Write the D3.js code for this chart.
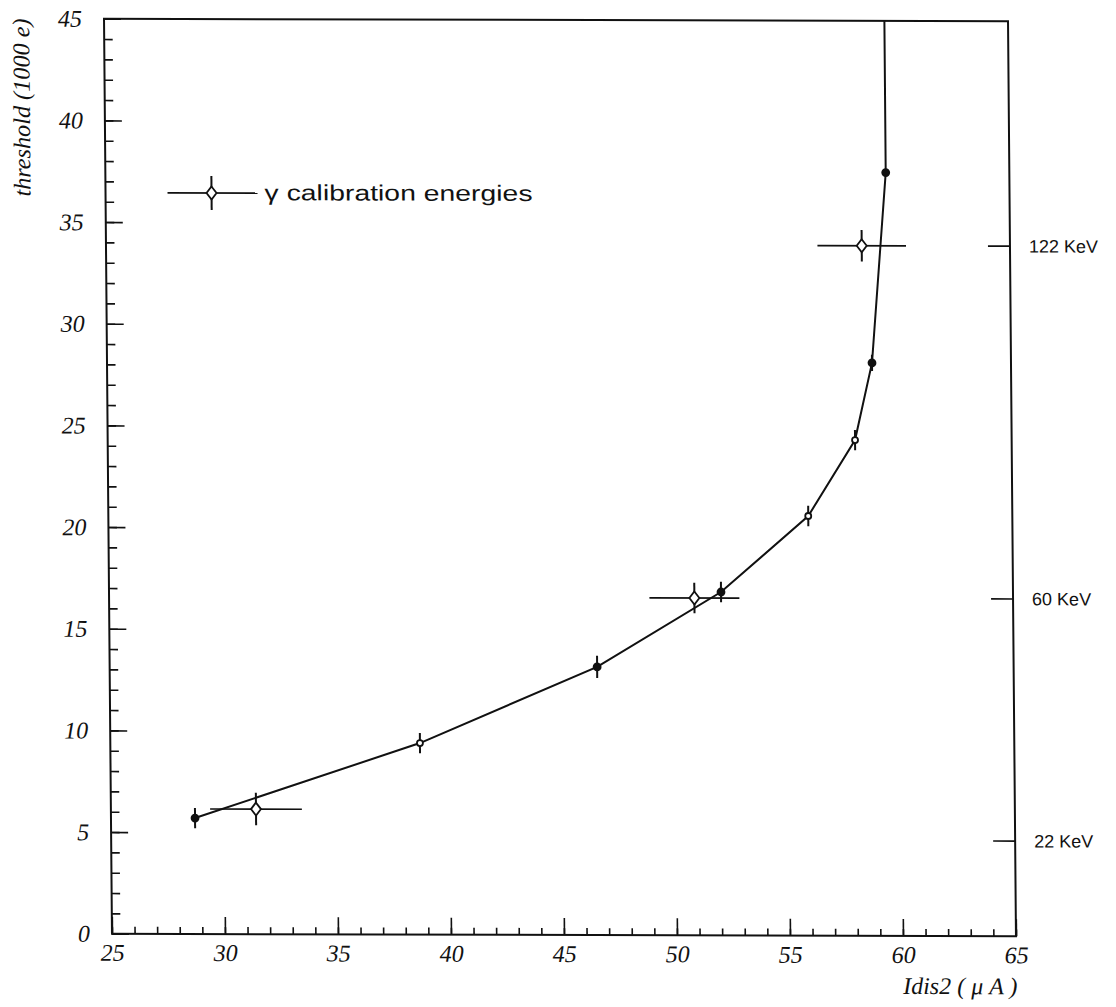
<!DOCTYPE html>
<html>
<head>
<meta charset="utf-8">
<script src="https://cdn.jsdelivr.net/npm/d3@7/dist/d3.min.js"></script>
<style>
  html, body { margin: 0; padding: 0; background: #fff; }
  .tick text { font-family: "Liberation Serif", serif; font-style: italic; font-size: 24px; fill: #111; }
  .tick line { stroke: #111; stroke-width: 1.6; }
</style>
</head>
<body>
<div id="chart"></div>
<script>
// measured points (Idis2 in uA, threshold in 1000 e)
var currentValues   = [28.72, 38.70, 46.57, 52.08, 55.97, 58.07, 58.85, 59.53];
var thresholdValues = [5.70, 9.42, 13.19, 16.89, 20.64, 24.38, 28.18, 37.54];
var thresholdErrors = [0.5, 0.5, 0.55, 0.5, 0.5, 0.5, 0.4, 0];
var openMarker      = [false, true, false, false, true, true, false, false];
// the curve leaves the frame straight up after the last point
var curveEndCurrent = 59.53;
var curveEndThreshold = 45;

// gamma calibration points
var calibCurrent         = [31.42, 50.90, 58.44];
var calibCurrentErrors   = [2.03, 1.99, 1.96];
var calibThreshold       = [6.15, 16.59, 33.94];
var calibThresholdErrors = [0.8, 0.75, 0.77];

// energy marks on the right side
var energyLabels    = ['122 KeV', '60 KeV', '22 KeV'];
var energyThreshold = [33.94, 16.59, 4.68];

var xTicksMajor = [25, 30, 35, 40, 45, 50, 55, 60, 65];
var yTicksMajor = [0, 5, 10, 15, 20, 25, 30, 35, 40, 45];

var svgWidth = 1116;
var svgHeight = 1007;

var plot = { left: 108, right: 1012, top: 20, bottom: 935 };

var svg = d3.select('#chart')
  .append('svg')
  .attr('width', svgWidth)
  .attr('height', svgHeight)
  .style('display', 'block');

svg.append('rect')
  .attr('width', svgWidth)
  .attr('height', svgHeight)
  .attr('fill', '#fff');

// the scanned page is a little skewed, mimic it
var cx = 560, cy = 478;
var skx = 0.0087, sky = 0.0028;
var page = svg.append('g')
  .attr('transform', `matrix(1, ${sky}, ${skx}, 1, ${-skx * cy}, ${-sky * cx})`);

var xScale = d3.scaleLinear().domain([25, 65]).range([plot.left, plot.right]);
var yScale = d3.scaleLinear().domain([0, 45]).range([plot.bottom, plot.top]);

// minor ticks
page.append('g')
  .attr('transform', `translate(0, ${plot.bottom})`)
  .call(d3.axisBottom(xScale).tickValues(d3.range(25, 66, 1)).tickSize(-7).tickFormat(''))
  .call(g => g.select('.domain').remove());

page.append('g')
  .attr('transform', `translate(${plot.left}, 0)`)
  .call(d3.axisLeft(yScale).tickValues(d3.range(0, 46, 1)).tickSize(-8.5).tickFormat(''))
  .call(g => g.select('.domain').remove());

// major ticks with labels
page.append('g')
  .attr('transform', `translate(0, ${plot.bottom})`)
  .call(d3.axisBottom(xScale).tickValues(xTicksMajor).tickSize(-17).tickPadding(10).tickFormat(d3.format('d')))
  .call(g => g.select('.domain').remove());

page.append('g')
  .attr('transform', `translate(${plot.left}, 0)`)
  .call(d3.axisLeft(yScale).tickValues(yTicksMajor).tickSize(-17).tickPadding(22).tickFormat(d3.format('d')))
  .call(g => g.select('.domain').remove());

// frame
page.append('rect')
  .attr('x', plot.left)
  .attr('y', plot.top)
  .attr('width', plot.right - plot.left)
  .attr('height', plot.bottom - plot.top)
  .attr('fill', 'none')
  .attr('stroke', '#111')
  .attr('stroke-width', 2);

// axis titles
page.append('text')
  .attr('x', plot.right + 1)
  .attr('y', 993)
  .attr('text-anchor', 'end')
  .attr('font-family', '"Liberation Serif", serif')
  .attr('font-style', 'italic')
  .attr('font-size', '24px')
  .attr('fill', '#111')
  .text('Idis2 ( \u03BC A )');

page.append('text')
  .attr('transform', 'translate(33, 20) rotate(-90)')
  .attr('text-anchor', 'end')
  .attr('font-family', '"Liberation Serif", serif')
  .attr('font-style', 'italic')
  .attr('font-size', '24px')
  .attr('fill', '#111')
  .attr('textLength', 178)
  .attr('lengthAdjust', 'spacingAndGlyphs')
  .text('threshold (1000 e)');

// clip for the curve
svg.append('defs').append('clipPath')
  .attr('id', 'plotClip')
  .append('rect')
  .attr('x', plot.left)
  .attr('y', plot.top)
  .attr('width', plot.right - plot.left)
  .attr('height', plot.bottom - plot.top);

var curveData = currentValues.map((d, i) => [d, thresholdValues[i]]);
curveData.push([curveEndCurrent, curveEndThreshold]);

var line = d3.line()
  .x(d => xScale(d[0]))
  .y(d => yScale(d[1]));

page.append('path')
  .datum(curveData)
  .attr('clip-path', 'url(#plotClip)')
  .attr('d', line)
  .attr('fill', 'none')
  .attr('stroke', '#111')
  .attr('stroke-width', 2);

// error bars on the measured points
var pointsGroup = page.append('g');
pointsGroup.selectAll('.errBar')
  .data(currentValues)
  .enter()
  .append('line')
  .attr('x1', d => xScale(d))
  .attr('x2', d => xScale(d))
  .attr('y1', (d, i) => yScale(thresholdValues[i] - thresholdErrors[i]))
  .attr('y2', (d, i) => yScale(thresholdValues[i] + thresholdErrors[i]))
  .attr('stroke', '#111')
  .attr('stroke-width', 2);

pointsGroup.selectAll('circle')
  .data(currentValues)
  .enter()
  .append('circle')
  .attr('cx', d => xScale(d))
  .attr('cy', (d, i) => yScale(thresholdValues[i]))
  .attr('r', (d, i) => openMarker[i] ? 3 : 3.5)
  .attr('fill', (d, i) => openMarker[i] ? '#fff' : '#111')
  .attr('stroke', '#111')
  .attr('stroke-width', 1.8);

// calibration points
function diamond(x, y) {
  var w = 5, h = 6.5;
  return `M${x},${y - h}L${x + w},${y}L${x},${y + h}L${x - w},${y}Z`;
}

var calibGroup = page.append('g');
calibGroup.selectAll('.hBar')
  .data(calibCurrent)
  .enter()
  .append('line')
  .attr('x1', (d, i) => xScale(d - calibCurrentErrors[i]))
  .attr('x2', (d, i) => xScale(d + calibCurrentErrors[i]))
  .attr('y1', (d, i) => yScale(calibThreshold[i]))
  .attr('y2', (d, i) => yScale(calibThreshold[i]))
  .attr('stroke', '#111')
  .attr('stroke-width', 1.6);

calibGroup.selectAll('.vBar')
  .data(calibCurrent)
  .enter()
  .append('line')
  .attr('x1', d => xScale(d))
  .attr('x2', d => xScale(d))
  .attr('y1', (d, i) => yScale(calibThreshold[i] - calibThresholdErrors[i]))
  .attr('y2', (d, i) => yScale(calibThreshold[i] + calibThresholdErrors[i]))
  .attr('stroke', '#111')
  .attr('stroke-width', 2);

calibGroup.selectAll('path')
  .data(calibCurrent)
  .enter()
  .append('path')
  .attr('d', (d, i) => diamond(xScale(d), yScale(calibThreshold[i])))
  .attr('fill', '#fff')
  .attr('stroke', '#111')
  .attr('stroke-width', 1.8);

// energy marks on right frame
var energyGroup = page.append('g');
energyGroup.selectAll('line')
  .data(energyThreshold)
  .enter()
  .append('line')
  .attr('x1', plot.right - 22)
  .attr('x2', plot.right)
  .attr('y1', d => yScale(d))
  .attr('y2', d => yScale(d))
  .attr('stroke', '#111')
  .attr('stroke-width', 1.6);

energyGroup.selectAll('text')
  .data(energyThreshold)
  .enter()
  .append('text')
  .attr('x', plot.right + 19)
  .attr('y', d => yScale(d))
  .attr('dy', '0.35em')
  .attr('font-family', '"Liberation Sans", Arial, sans-serif')
  .attr('font-size', '18px')
  .attr('fill', '#111')
  .text((d, i) => energyLabels[i]);

// legend
var legend = page.append('g').attr('transform', 'translate(214, 194)');
legend.append('line')
  .attr('x1', -44).attr('x2', 46)
  .attr('y1', 0).attr('y2', 0)
  .attr('stroke', '#111').attr('stroke-width', 1.8);
legend.append('line')
  .attr('x1', 0).attr('x2', 0)
  .attr('y1', -17).attr('y2', 17)
  .attr('stroke', '#111').attr('stroke-width', 2);
legend.append('path')
  .attr('d', diamond(0, 0))
  .attr('fill', '#fff')
  .attr('stroke', '#111')
  .attr('stroke-width', 1.8);
legend.append('text')
  .attr('x', 53)
  .attr('y', 7)
  .attr('font-family', '"Liberation Sans", Arial, sans-serif')
  .attr('font-size', '22px')
  .attr('fill', '#111')
  .attr('textLength', 268)
  .attr('lengthAdjust', 'spacingAndGlyphs')
  .text('\u03B3 calibration energies');
</script>
</body>
</html>
